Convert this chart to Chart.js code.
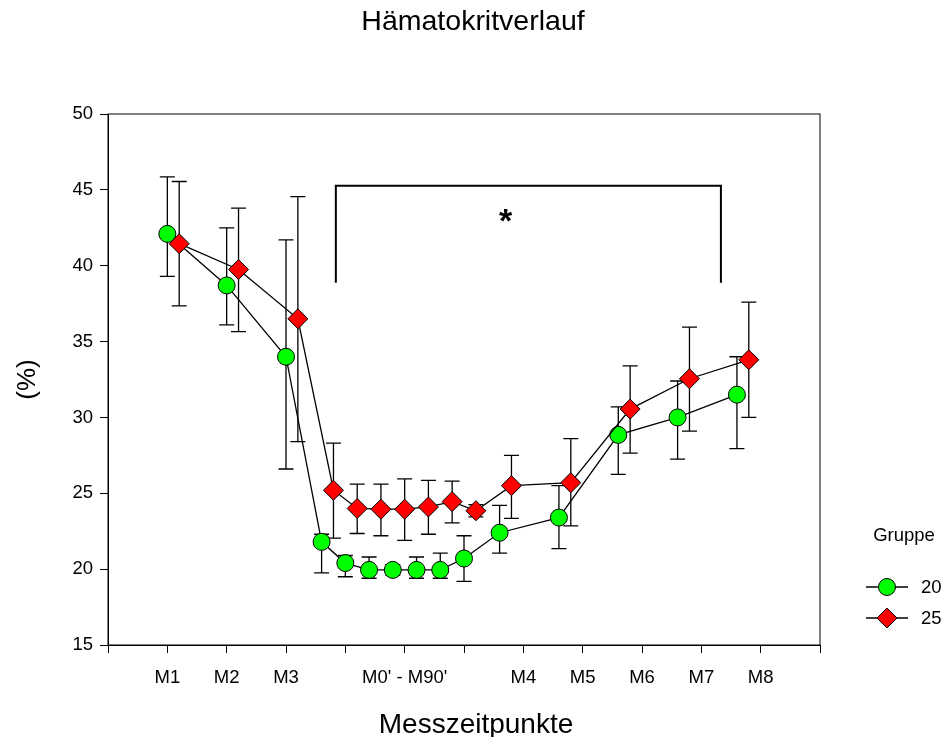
<!DOCTYPE html>
<html lang="de">
<head>
    <meta charset="UTF-8">
    <title>Hämatokritverlauf</title>
    <script src="https://cdn.jsdelivr.net/npm/chart.js"></script>
    <style>
        body {
            margin: 0;
            background: white;
        }

        #wrap {
            width: 946px;
            height: 737px;
        }
    </style>
</head>
<body>
<div id="wrap"><canvas id="hkChart" width="946" height="737"></canvas></div>

<script>
    // x tick labels, one per integer position 0..12
    const tickLabels = ["", "M1", "M2", "M3", "", "M0' - M90'", "", "M4", "M5", "M6", "M7", "M8", ""];

    // Gruppe 20 (green circles)
    const xGreen = [1, 2, 3, 3.6, 4.0, 4.4, 4.8, 5.2, 5.6, 6.0, 6.6, 7.6, 8.6, 9.6, 10.6];
    const yGreen = [42.1, 38.7, 34.0, 21.8, 20.4, 19.95, 19.95, 19.95, 19.95, 20.7, 22.4, 23.4, 28.85, 30.0, 31.5];
    const greenHigh = [45.85, 42.5, 41.7, 22.3, 20.9, 20.8, 20.3, 20.8, 21.05, 22.2, 24.2, 25.5, 30.7, 32.4, 34.0];
    const greenLow = [39.3, 36.1, 26.6, 19.75, 19.5, 19.4, 19.6, 19.4, 19.4, 19.2, 21.05, 21.35, 26.25, 27.25, 27.95];

    // Gruppe 25 (red diamonds)
    const xRed = [1.2, 2.2, 3.2, 3.8, 4.2, 4.6, 5.0, 5.4, 5.8, 6.2, 6.8, 7.8, 8.8, 9.8, 10.8];
    const yRed = [41.45, 39.75, 36.5, 25.2, 24.0, 23.95, 23.95, 24.1, 24.45, 23.85, 25.5, 25.7, 30.55, 32.55, 33.8];
    const redHigh = [45.55, 43.8, 44.55, 28.3, 25.6, 25.6, 25.95, 25.85, 25.8, 24.25, 27.5, 28.6, 33.4, 35.95, 37.6];
    const redLow = [37.35, 35.65, 28.4, 22.05, 22.35, 22.2, 21.9, 22.3, 23.05, 23.45, 23.35, 22.85, 27.65, 29.1, 30.0];

    const FONT = 'Liberation Sans';
    Chart.defaults.font.family = FONT;
    Chart.defaults.color = '#000';

    const toPoints = (xs, ys) => xs.map((x, i) => ({x: x, y: ys[i]}));

    // error bars under the markers
    const errorBars = {
        id: 'errorBars',
        beforeDatasetsDraw(chart) {
            const {ctx, scales: {x, y}} = chart;
            const sets = [[xGreen, greenHigh, greenLow], [xRed, redHigh, redLow]];
            ctx.save();
            ctx.strokeStyle = '#000';
            ctx.lineWidth = 1.3;
            sets.forEach(([xs, hi, lo]) => {
                xs.forEach((xv, i) => {
                    const px = x.getPixelForValue(xv);
                    const top = y.getPixelForValue(hi[i]);
                    const bot = y.getPixelForValue(lo[i]);
                    ctx.beginPath();
                    ctx.moveTo(px, top);
                    ctx.lineTo(px, bot);
                    ctx.moveTo(px - 7.5, top);
                    ctx.lineTo(px + 7.5, top);
                    ctx.moveTo(px - 7.5, bot);
                    ctx.lineTo(px + 7.5, bot);
                    ctx.stroke();
                });
            });
            ctx.restore();
        }
    };

    // frame, significance bracket, x title and the legend on the right
    const extras = {
        id: 'extras',
        afterDraw(chart) {
            const {ctx, chartArea: a, scales: {x, y}} = chart;
            ctx.save();
            ctx.strokeStyle = '#000';
            ctx.lineWidth = 1;
            ctx.strokeRect(a.left, a.top, a.right - a.left, a.bottom - a.top);

            // bracket
            const bx1 = x.getPixelForValue(3.84), bx2 = x.getPixelForValue(10.33);
            const by = y.getPixelForValue(45.27), byb = y.getPixelForValue(38.88);
            ctx.lineWidth = 2;
            ctx.beginPath();
            ctx.moveTo(bx1, byb);
            ctx.lineTo(bx1, by);
            ctx.lineTo(bx2, by);
            ctx.lineTo(bx2, byb);
            ctx.stroke();

            ctx.fillStyle = '#000';
            ctx.font = 'bold 34px ' + FONT;
            ctx.textAlign = 'center';
            ctx.textBaseline = 'alphabetic';
            const m = ctx.measureText('*');
            const sy = y.getPixelForValue(43.3);
            ctx.fillText('*', x.getPixelForValue(6.7), sy + (m.actualBoundingBoxAscent - m.actualBoundingBoxDescent) / 2);

            // x axis title, sits a little right of the plot centre in the original
            ctx.font = '28px ' + FONT;
            ctx.textBaseline = 'middle';
            ctx.fillText('Messzeitpunkte', 476, 725);

            // legend
            ctx.font = '18.5px ' + FONT;
            ctx.fillText('Gruppe', 904, 536);
            ctx.textAlign = 'left';
            const rows = [
                {y: 587, label: '20', style: 'circle', r: 8.5, color: '#00ff00'},
                {y: 618, label: '25', style: 'rectRot', r: 10, color: '#ff0000'}
            ];
            rows.forEach(row => {
                ctx.lineWidth = 1.3;
                ctx.beginPath();
                ctx.moveTo(866, row.y);
                ctx.lineTo(908, row.y);
                ctx.stroke();
                ctx.lineWidth = 1;
                ctx.fillStyle = row.color;
                Chart.helpers.drawPoint(ctx, {pointStyle: row.style, radius: row.r, borderWidth: 1}, 887, row.y);
                ctx.fillStyle = '#000';
                ctx.fillText(row.label, 921, row.y + 1);
            });
            ctx.restore();
        }
    };

    const hkChart = new Chart(document.getElementById('hkChart'), {
        type: 'scatter',
        data: {
            datasets: [
                {
                    label: '20',
                    data: toPoints(xGreen, yGreen),
                    showLine: true,
                    borderColor: '#000',
                    borderWidth: 1.3,
                    pointStyle: 'circle',
                    pointRadius: 8.5,
                    pointBackgroundColor: '#00ff00',
                    pointBorderColor: '#000',
                    pointBorderWidth: 1,
                    order: 1
                },
                {
                    label: '25',
                    data: toPoints(xRed, yRed),
                    showLine: true,
                    borderColor: '#000',
                    borderWidth: 1.3,
                    pointStyle: 'rectRot',
                    pointRadius: 10,
                    pointBackgroundColor: '#ff0000',
                    pointBorderColor: '#000',
                    pointBorderWidth: 1,
                    order: 0
                }
            ]
        },
        options: {
            responsive: false,
            animation: false,
            layout: {
                padding: 0
            },
            scales: {
                x: {
                    type: 'linear',
                    min: 0,
                    max: 12,
                    afterFit: s => { s.height = 92; },
                    ticks: {
                        stepSize: 1,
                        autoSkip: false,
                        maxRotation: 0,
                        padding: 14,
                        font: {size: 18.5},
                        callback: v => tickLabels[v] ?? ''
                    },
                    grid: {
                        drawOnChartArea: false,
                        color: '#000',
                        tickLength: 8
                    },
                    border: {color: '#000'}
                },
                y: {
                    min: 15,
                    max: 50,
                    afterFit: s => { s.width = 108; },
                    ticks: {
                        stepSize: 5,
                        padding: 7,
                        font: {size: 18.5}
                    },
                    grid: {
                        drawOnChartArea: false,
                        color: '#000',
                        tickLength: 8
                    },
                    border: {color: '#000'},
                    title: {
                        display: true,
                        text: '(%)',
                        font: {size: 26},
                        padding: {top: 12, bottom: 0}
                    }
                },
                // empty space on the right where the legend sits
                side: {
                    position: 'right',
                    afterFit: s => { s.width = 126; },
                    ticks: {display: false},
                    grid: {display: false},
                    border: {display: false}
                }
            },
            plugins: {
                legend: {display: false},
                tooltip: {enabled: false},
                title: {
                    display: true,
                    text: 'Hämatokritverlauf',
                    font: {size: 28.5, weight: 'normal'},
                    color: '#000',
                    padding: {top: 5, bottom: 74.8}
                }
            }
        },
        plugins: [errorBars, extras]
    });
</script>

</body>
</html>
